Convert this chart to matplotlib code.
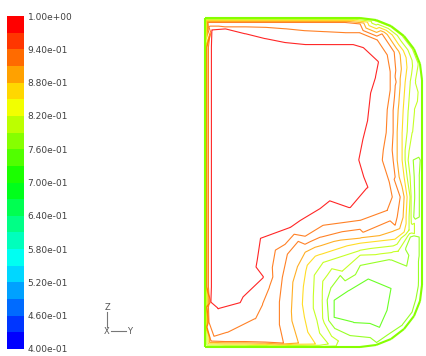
import numpy as np
import matplotlib
matplotlib.use("Agg")
import matplotlib.pyplot as plt
import matplotlib.tri as mtri
from matplotlib.colors import ListedColormap, BoundaryNorm, hsv_to_rgb
from matplotlib.collections import LineCollection
from matplotlib.lines import Line2D

# contour levels and colour bar
levels = [0.73, 0.76, 0.79, 0.82, 0.85, 0.88, 0.91, 0.94, 0.97]
vmin, vmax, n_bands = 0.40, 1.00, 20
tick_vals = [1.00, 0.94, 0.88, 0.82, 0.76, 0.70, 0.64, 0.58, 0.52, 0.46, 0.40]

# sampled field read off the picture, Y/Z in mm from the bottom-left corner
# wall, counter-clockwise from the bottom-left corner
wall_y = [0, 20, 40, 60, 80, 100, 120, 135, 145, 155,
          171, 186, 199, 209, 215, 217,
          217, 217, 217, 217, 217, 217, 217, 217, 217, 217,
          217, 215, 209, 199, 186, 171,
          155, 140, 120, 100, 80, 60, 40, 20, 0,
          0, 0, 0, 0, 0, 0, 0, 0, 0, 0, 0, 0, 0, 0, 0]
wall_z = [0, 0, 0, 0, 0, 0, 0, 0, 0, 0,
          2, 8, 18, 31, 46, 62,
          90, 110, 130, 150, 170, 187, 197, 215, 237, 250,
          267, 283, 298, 311, 321, 327,
          329, 329, 329, 329, 329, 329, 329, 329, 329,
          300, 280, 260, 240, 220, 200, 180, 160, 140, 120, 100, 80, 60, 40, 20]
wall_v = [0.78] * 7 + [0.775, 0.765, 0.765] + [0.765] * 6 + \
         [0.765] * 6 + [0.77, 0.775, 0.775, 0.775] + [0.78] * 6 + [0.78] * 9 + [0.78] * 15

# core region (above the top level)
core_y = [40, 100, 140, 150, 120, 60, 20, 100, 140, 60, 25, 40, 25, 120]
core_z = [270, 270, 270, 230, 220, 220, 200, 180, 170, 150, 120, 80, 55, 165]
core_v = 0.99

r97_y = [6.5] * 13 + [6, 13, 58, 55, 85, 95, 115, 125, 145, 162, 158, 153, 157,
                      162, 165, 170, 173, 158, 148, 140, 120, 100, 80, 60, 40, 20, 7]
r97_z = [300, 280, 260, 240, 220, 200, 180, 160, 140, 120, 100, 80, 60,
         45, 39, 70, 109, 120, 127, 139, 147, 140, 160, 170, 187, 207,
         227, 254, 270, 285, 299, 302, 302, 302, 302, 304, 308, 313, 318, 317]

o94_y = [3.5] * 14 + [4, 9, 22, 50, 57, 64, 67, 70, 80, 100, 118, 155, 182, 187,
                      184, 177, 178, 181, 182, 185, 185, 182, 172, 155,
                      140, 120, 100, 80, 60, 40, 20, 4]
o94_z = [300, 280, 260, 240, 220, 200, 180, 160, 140, 120, 100, 80, 60, 40,
         25, 11, 15, 29, 43, 60, 80, 97, 103, 111, 122, 127, 137, 150,
         165, 187, 197, 215, 237, 257, 275, 292, 307, 314,
         314, 315, 316, 318, 319.5, 320, 320, 320]

o91_y = [2] * 15 + [6, 20, 40, 60, 78, 74, 74, 77, 82, 93, 115, 158, 190, 192, 195,
                    190, 188, 187, 188, 188, 191, 189, 177, 155,
                    140, 120, 100, 80, 60, 40, 20, 3]
o91_z = [300, 280, 260, 240, 220, 200, 180, 160, 140, 120, 100, 80, 60, 40, 20,
         6, 5.5, 5.5, 5, 4, 22, 45, 70, 93, 106, 110, 115, 122, 130, 150,
         170, 187, 197, 215, 237, 265, 295, 313, 323,
         324.5, 324.5, 324.5, 324.5, 324.5, 324.5, 324.5, 324.5]

y88_y = [93, 86, 87, 92, 100, 110, 155, 188, 198, 199, 194, 192, 192, 192, 193, 195]
y88_z = [4, 35, 55, 80, 95, 100, 109, 116, 130, 150, 170, 187, 197, 215, 237, 265]

y85_y = [110, 99, 98, 102, 110, 155, 190, 199, 201, 202, 199, 197, 197, 197, 198, 200]
y85_z = [3, 30, 60, 82, 91, 104, 108, 115, 130, 150, 170, 187, 197, 215, 237, 265]

y82_y = [123, 112, 108, 109, 118, 155, 192, 204, 204, 205, 202, 200, 200, 202, 203, 205]
y82_z = [3, 25, 50, 72, 85, 97, 103, 117, 130, 150, 170, 187, 197, 215, 237, 265]

y79_y = [133, 119, 117, 137, 155, 193, 202, 206, 206, 205, 203, 204, 207, 209, 210]
y79_z = [6, 24, 47, 76, 92, 96, 110, 130, 150, 170, 187, 197, 215, 237, 265]

# 0.76 ring: up the inner side, U-turn near Z=197, back down by the wall
g76_y = [208, 211, 214, 214.5, 214.5, 214.5, 214.5, 214.5, 214, 208, 198, 183, 165,
         145, 130, 123, 122, 126, 135, 155, 185, 200, 205, 208.5, 209.5, 209]
g76_z = [187, 197, 190, 170, 150, 130, 110, 90, 60, 35, 22, 12, 9,
         11, 18, 32, 47, 60, 72, 82, 88, 98, 110, 130, 150, 170]

strip_y = [211, 212, 212, 211.5, 210, 208, 205]
strip_z = [187, 170, 150, 130, 110, 90, 75]
strip_v = 0.748

g73_y = [128, 143, 163, 187, 183, 175, 148, 128]
g73_z = [47, 57, 69, 59, 37, 19, 24, 29]

low_y = [150, 168, 165]
low_z = [42, 50, 32]
low_v = 0.712

# assemble samples
Y, Z, V = [], [], []
def add(ys, zs, v):
    Y.extend(ys)
    Z.extend(zs)
    V.extend(v if isinstance(v, list) else [v] * len(ys))

add(wall_y, wall_z, wall_v)
add(core_y, core_z, core_v)
add(r97_y, r97_z, 0.971)
add(o94_y, o94_z, 0.941)
add(o91_y, o91_z, 0.911)
add(y88_y, y88_z, 0.881)
add(y85_y, y85_z, 0.851)
add(y82_y, y82_z, 0.821)
add(y79_y, y79_z, 0.791)
add(g76_y, g76_z, 0.761)
add(strip_y, strip_z, strip_v)
add(g73_y, g73_z, 0.731)
add(low_y, low_z, low_v)

# Fluent style rainbow, red on top, blue at bottom
hues = [(240.0 * (n_bands - 1 - i) / (n_bands - 1)) / 360.0 for i in range(n_bands)]
cmap = ListedColormap([hsv_to_rgb((h, 1.0, 1.0)) for h in hues])
norm = BoundaryNorm(np.linspace(vmin, vmax, n_bands + 1), n_bands)

fig = plt.figure(figsize=(4.26, 3.56), dpi=100)
W, H = 426.0, 356.0

ax = fig.add_axes([200 / W, 0, 226 / W, 346 / H])
ax.set_xlim(-5, 221)
ax.set_ylim(-9, 337)
ax.axis("off")

tri = mtri.Triangulation(Y, Z)
ax.tricontour(tri, V, levels=levels, colors=[cmap(norm(l)) for l in levels],
              linewidths=0.8, alpha=0.85)

# wall outline coloured by wall value
pts = np.column_stack([wall_y + [wall_y[0]], wall_z + [wall_z[0]]])
segs = np.stack([pts[:-1], pts[1:]], axis=1)
seg_v = [(a + b) / 2 for a, b in zip(wall_v, wall_v[1:] + [wall_v[0]])]
lc = LineCollection(segs, colors=[cmap(norm(v)) for v in seg_v], linewidths=1.5)
ax.add_collection(lc)

# colour bar
cax = fig.add_axes([7 / W, 7 / H, 17 / W, 333 / H])
sm = plt.cm.ScalarMappable(norm=norm, cmap=cmap)
cb = fig.colorbar(sm, cax=cax, ticks=tick_vals)
cb.outline.set_visible(False)
cb.ax.minorticks_off()
cb.ax.tick_params(length=0, pad=2.5, labelsize=6.5, labelcolor="#404040")
cb.ax.set_yticklabels([f"{v:.2e}" for v in tick_vals])

# axis triad
fig.text(107 / W, 1 - 307 / H, "Z", ha="center", va="center", fontsize=6, color="#555555")
fig.text(107 / W, 1 - 331 / H, "X", ha="center", va="center", fontsize=6, color="#555555")
fig.text(130 / W, 1 - 331 / H, "Y", ha="center", va="center", fontsize=6, color="#555555")
fig.add_artist(Line2D([107 / W, 107 / W], [1 - 312 / H, 1 - 327 / H],
                      transform=fig.transFigure, color="#777777", lw=0.8))
fig.add_artist(Line2D([111 / W, 126 / W], [1 - 331 / H, 1 - 331 / H],
                      transform=fig.transFigure, color="#777777", lw=0.8))

fig.savefig("out.png", dpi=100)
